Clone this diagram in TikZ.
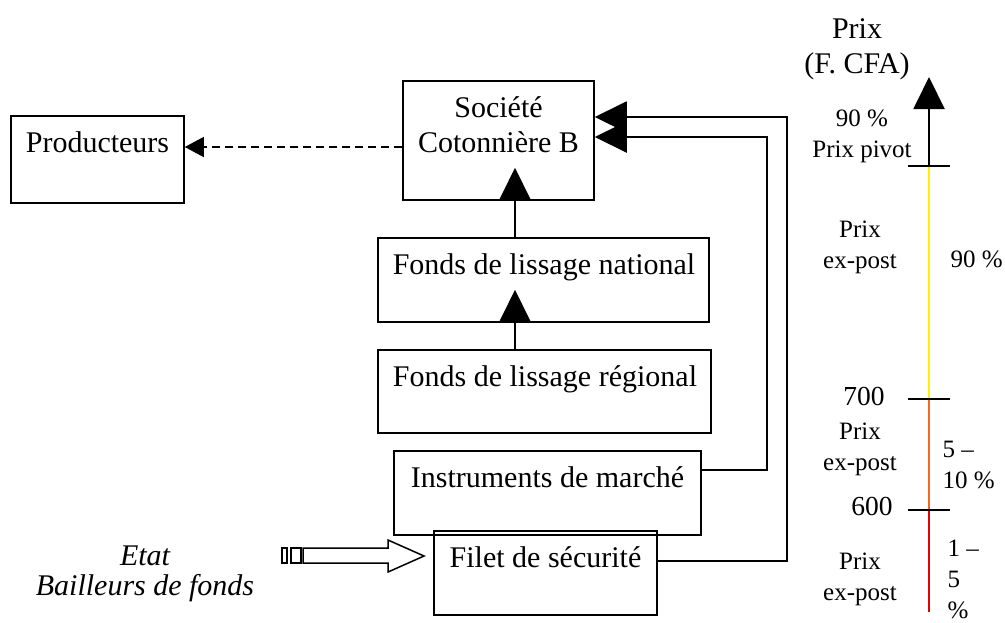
\documentclass[tikz,border=0pt]{standalone}
\usepackage{fontspec}
\setmainfont{Liberation Serif}
\usetikzlibrary{positioning,arrows.meta,fit}
\definecolor{pivotyellow}{RGB}{255,240,0}
\definecolor{midorange}{RGB}{245,105,30}
\definecolor{lowred}{RGB}{230,0,0}
\tikzset{
  boxfr/.style={draw, line width=0.6pt, inner sep=0pt},
  boxtxt/.style={anchor=base, inner sep=0pt, align=center, font=\fontsize{12}{13.8}\selectfont},
  axtxt/.style={anchor=base, inner sep=0pt, align=center, font=\fontsize{10}{12.4}\selectfont},
  numtxt/.style={anchor=base east, inner sep=0pt, font=\fontsize{11}{13}\selectfont},
  flowline/.style={line width=0.8pt, -{Triangle[length=12.8pt,width=12.4pt]}},
  dashlink/.style={line width=0.5pt, dash pattern=on 3.2pt off 2pt, -{Triangle[length=7.6pt,width=8pt]}},
  axtick/.style={line width=0.5pt}
}

\begin{document}
\begin{tikzpicture}[x=0.4pt, y=-0.4pt]
  \useasboundingbox (0,0) rectangle (1005,622);
  % boxes
  \node[boxfr, fit={(11,116) (184,203)}] (prod) {};
  \node[boxfr, fit={(403,81) (594,200)}] (soc) {};
  \node[boxfr, fit={(378,238) (709,322)}] (nat) {};
  \node[boxfr, fit={(378,350) (711,433)}] (reg) {};
  \node[boxfr, fit={(394,451) (701,535)}] (instr) {};
  \node[boxfr, fit={(434,531) (657,615)}] (filet) {};
  \node[boxtxt] (prodtxt) at (97.5,152) {Producteurs};
  \node[boxtxt] (soctxt) at (498.5,152) {Société\\Cotonnière B};
  \node[boxtxt] (nattxt) at (544,274) {Fonds de lissage national};
  \node[boxtxt] (regtxt) at (545,386) {Fonds de lissage régional};
  \node[boxtxt] (instrtxt) at (547.5,487) {Instruments de marché};
  \node[boxtxt] (filettxt) at (545.5,567) {Filet de sécurité};
  \node[boxtxt, font=\fontsize{12}{12}\selectfont\itshape] (donors) at (145,595) {Etat\\Bailleurs de fonds};

  % connectors
  \coordinate (upx) at (515,0);
  \coordinate (innerx) at (767,0);
  \coordinate (outerx) at (787,0);
  \draw[flowline, shorten >=-13.2pt] (nat.north -| upx) -- (soc.south -| upx);
  \draw[flowline, shorten >=-13.2pt] (reg.north -| upx) -- (nat.south -| upx);
  \coordinate (instrout) at ([yshift=9.2pt]instr.east);
  \coordinate (socin) at ([yshift=1.4pt]soc.east);
  \draw[flowline] (instrout) -| (innerx |- socin) -- (socin);
  \coordinate (filetout) at ([yshift=4.8pt]filet.east);
  \coordinate (socintop) at ([yshift=9.4pt]soc.east);
  \draw[flowline] (filetout) -| (outerx |- socintop) -- (socintop);
  \coordinate (dashs) at ([yshift=-2.6pt]soc.west);
  \draw[dashlink] (dashs) -- (dashs -| prod.east);

  % hollow arrow from the donors
  \draw[line width=0.6pt] (303,548) -- (388,548) -- (388,540) -- (424,556)
    -- (388,572) -- (388,563) -- (303,563) -- cycle;
  \draw[line width=0.6pt] (282,548) rectangle (287,563);
  \draw[line width=0.6pt] (291,548) rectangle (301,563);

  % price scale
  \coordinate (axtop) at (929,77);
  \coordinate (axpivot) at (929,166);
  \coordinate (ax700) at (929,399);
  \coordinate (ax600) at (929,510);
  \coordinate (axbot) at (929,612);
  \draw[flowline] (axpivot) -- (axtop);
  \draw[pivotyellow, line width=0.6pt] (axpivot) -- (ax700);
  \draw[midorange, line width=0.6pt] (ax700) -- (ax600);
  \draw[lowred, line width=0.6pt] (ax600) -- (axbot);
  \foreach \t in {axpivot,ax700,ax600}
    \draw[axtick] ([xshift=-8.4pt]\t) -- ([xshift=8.4pt]\t);
  \node[boxtxt] (prixhead) at (857,73) {Prix\\(F. CFA)};
  \node[axtxt] (pivotlbl) at (862,157) {90 \%\\Prix pivot};
  \node[axtxt] (expost1) at (860,268) {Prix\\ex-post};
  \node[axtxt, anchor=base west] (pct1) at (950,267) {90 \%};
  \node[numtxt] (lbl700) at (885,405) {700};
  \node[axtxt] (expost2) at (860,470) {Prix\\ex-post};
  \node[axtxt, anchor=base west, align=left] (pct2) at (942,488) {5 –\\10 \%};
  \node[numtxt] (lbl600) at (893,515) {600};
  \node[axtxt] (expost3) at (860,600) {Prix\\ex-post};
  \node[axtxt, anchor=base west, align=left] (pct3) at (947,618) {1 –\\5\\\%};
\end{tikzpicture}
\end{document}
